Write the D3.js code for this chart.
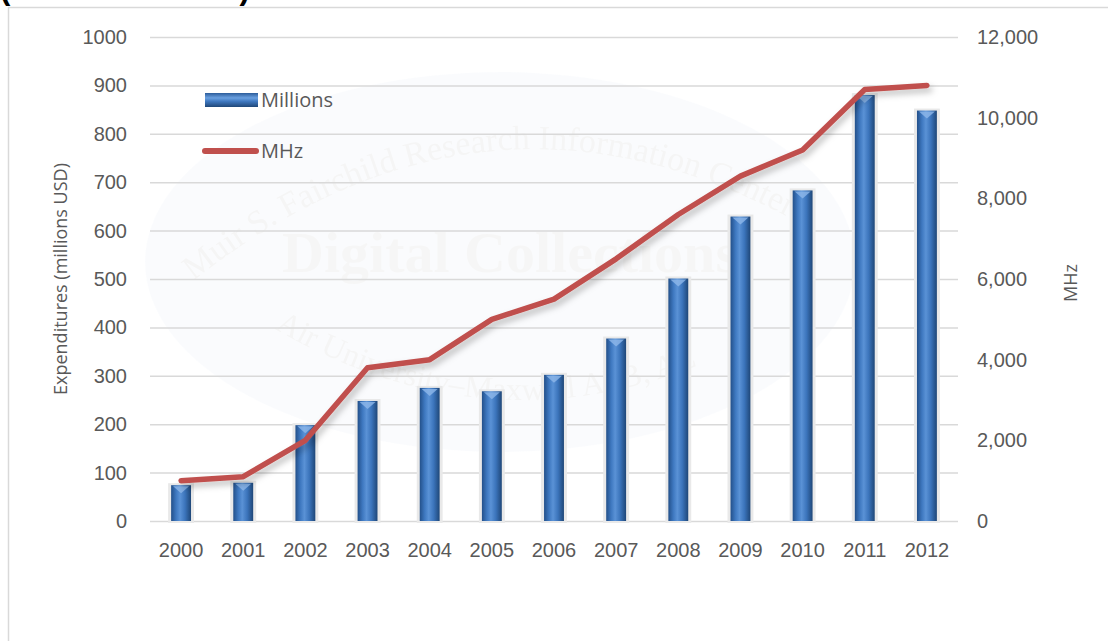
<!DOCTYPE html>
<html>
<head>
<meta charset="utf-8">
<script src="https://cdn.jsdelivr.net/npm/d3@7"></script>
<style>
  body { margin: 0; background: #fff; }
  svg { display: block; font-family: "Open Sans", "Liberation Sans", sans-serif; }
  .tick text { fill: #595959; font-size: 20px; }
</style>
</head>
<body>
<div id="chart"></div>
<script>
// data
const years = ["2000", "2001", "2002", "2003", "2004", "2005", "2006",
  "2007", "2008", "2009", "2010", "2011", "2012"];
const millions = [74, 79, 198, 248, 275, 268, 302, 377, 501, 629, 683, 880, 848];
const mhz = [1000, 1100, 2000, 3800, 4000, 5000, 5500, 6500, 7600, 8550, 9200, 10700, 10800];
const leftTicks = [0, 100, 200, 300, 400, 500, 600, 700, 800, 900, 1000];
const rightTicks = [0, 2000, 4000, 6000, 8000, 10000, 12000];
const seriesNames = ["Millions", "MHz"];

const W = 1108, H = 641;
const margin = { top: 37, left: 150, right: 150, bottom: 120 };
const width = W - margin.left - margin.right,
  height = H - margin.top - margin.bottom;

const svg = d3.select("#chart").append("svg")
  .attr("width", W).attr("height", H);

const defs = svg.append("defs");

// cylinder look for the bars
const grad = defs.append("linearGradient").attr("id", "barGrad")
  .attr("x1", "0%").attr("x2", "100%").attr("y1", "0%").attr("y2", "0%");
[["0%", "#23508a"], ["25%", "#3e78c0"], ["45%", "#5a92d6"], ["70%", "#3b74bb"], ["100%", "#1f4778"]]
  .forEach(([o, c]) => grad.append("stop").attr("offset", o).attr("stop-color", c));

const legGrad = defs.append("linearGradient").attr("id", "legGrad")
  .attr("x1", "0%").attr("x2", "0%").attr("y1", "0%").attr("y2", "100%");
[["0%", "#2c5c9a"], ["35%", "#6aa0e0"], ["60%", "#3f78c0"], ["100%", "#1f4778"]]
  .forEach(([o, c]) => legGrad.append("stop").attr("offset", o).attr("stop-color", c));

const shadow = defs.append("filter").attr("id", "shadow")
  .attr("x", "-10%").attr("y", "-10%").attr("width", "130%").attr("height", "130%");
shadow.append("feDropShadow").attr("dx", 3).attr("dy", 4)
  .attr("stdDeviation", 3).attr("flood-color", "#000").attr("flood-opacity", 0.25);

// clipped title peeking in at the top
svg.append("text")
  .attr("x", 0).attr("y", -1)
  .style("font-family", "'Liberation Sans', Arial, sans-serif")
  .style("font-weight", "bold").style("font-size", "31px")
  .attr("fill", "#000")
  .text("(millions of USD)");

// chart frame
svg.append("path")
  .attr("d", `M8.5,${H} V7.5 H${W}`)
  .attr("fill", "none").attr("stroke", "#d9d9d9").attr("stroke-width", 1.5);

// faint watermark
const wm = svg.append("g").attr("opacity", 0.35);
wm.append("ellipse").attr("cx", 500).attr("cy", 262).attr("rx", 355).attr("ry", 190)
  .attr("fill", "#f3f6fb");
defs.append("path").attr("id", "arcTop").attr("d", "M170,300 Q500,20 860,260");
defs.append("path").attr("id", "arcBot").attr("d", "M260,320 Q520,480 790,320");
wm.append("text").style("font-family", "'Liberation Serif', serif").style("font-size", "34px")
  .attr("fill", "#e4e4e4")
  .append("textPath").attr("href", "#arcTop").attr("startOffset", "4%")
  .text("Muir S. Fairchild Research Information Center");
wm.append("text").attr("x", 510).attr("y", 272).attr("text-anchor", "middle")
  .style("font-family", "'Liberation Serif', serif").style("font-weight", "bold")
  .style("font-size", "58px").attr("fill", "#e8e8e8").text("Digital Collections");
wm.append("text").style("font-family", "'Liberation Serif', serif").style("font-size", "32px")
  .attr("fill", "#e4e4e4")
  .append("textPath").attr("href", "#arcBot").attr("startOffset", "3%")
  .text("Air University–Maxwell AFB, AL");

const g = svg.append("g").attr("transform", `translate(${margin.left},${margin.top})`);

/* scales */
const x = d3.scaleBand().domain(years).range([0, width]).padding(0);
const yL = d3.scaleLinear().domain([0, 1000]).range([height, 0]);
const yR = d3.scaleLinear().domain([0, 12000]).range([height, 0]);

/* gridlines */
g.append("g")
  .call(d3.axisLeft(yL).tickValues(leftTicks).tickSize(-width).tickFormat(""))
  .call((s) => s.select(".domain").remove())
  .call((s) => s.selectAll("line").attr("stroke", "#d9d9d9").attr("stroke-width", 1.5));

/* axes */
g.append("g")
  .call(d3.axisLeft(yL).tickValues(leftTicks).tickSize(0).tickPadding(23).tickFormat(d3.format("d")))
  .call((s) => s.select(".domain").remove());

g.append("g").attr("transform", `translate(${width},0)`)
  .call(d3.axisRight(yR).tickValues(rightTicks).tickSize(0).tickPadding(19).tickFormat(d3.format(",")))
  .call((s) => s.select(".domain").remove());

g.append("g").attr("transform", `translate(0,${height})`)
  .call(d3.axisBottom(x).tickSize(0).tickPadding(22))
  .call((s) => s.select(".domain").remove());

/* axis titles */
svg.append("text")
  .attr("transform", `translate(67,${margin.top + height / 2}) rotate(-90)`)
  .attr("text-anchor", "middle").attr("fill", "#595959").style("font-size", "18px")
  .text("Expenditures (millions USD)");

svg.append("text")
  .attr("transform", `translate(1077,${margin.top + height / 2 + 4}) rotate(-90)`)
  .attr("text-anchor", "middle").attr("fill", "#595959").style("font-size", "18px")
  .text("MHz");

/* bars */
const barW = x.bandwidth() * 0.32;
const data = years.map((yr, i) => ({ year: yr, m: millions[i], f: mhz[i] }));

const bars = g.selectAll(".bar").data(data).join("g").attr("class", "bar");
bars.append("rect") // soft halo
  .attr("x", (d) => x(d.year) + x.bandwidth() / 2 - barW / 2 - 3)
  .attr("y", (d) => yL(d.m) - 2)
  .attr("width", barW + 6)
  .attr("height", (d) => height - yL(d.m) + 4)
  .attr("fill", "#e9e9e9");
bars.append("rect")
  .attr("x", (d) => x(d.year) + x.bandwidth() / 2 - barW / 2)
  .attr("y", (d) => yL(d.m))
  .attr("width", barW)
  .attr("height", (d) => height - yL(d.m))
  .attr("fill", "url(#barGrad)");
bars.append("path") // top bevel
  .attr("d", (d) => {
    const cx = x(d.year) + x.bandwidth() / 2, ty = yL(d.m);
    return `M${cx - barW / 2 + 2},${ty + 1} H${cx + barW / 2 - 2} L${cx},${ty + 8} Z`;
  })
  .attr("fill", "#8fb8ea").attr("opacity", 0.8);

/* MHz line */
const line = d3.line()
  .x((d) => x(d.year) + x.bandwidth() / 2)
  .y((d) => yR(d.f));

g.append("path").datum(data)
  .attr("d", line)
  .attr("fill", "none")
  .attr("stroke", "#c0504d")
  .attr("stroke-width", 5.5)
  .attr("stroke-linecap", "round")
  .attr("stroke-linejoin", "round")
  .attr("filter", "url(#shadow)");

/* legend */
const legend = svg.append("g").attr("transform", "translate(202,100)");
const items = legend.selectAll("g").data(seriesNames).join("g")
  .attr("transform", (d, i) => `translate(0,${i * 51})`);
items.filter((d) => d === "Millions").append("rect")
  .attr("x", 3).attr("y", -7).attr("width", 53).attr("height", 14)
  .attr("fill", "url(#legGrad)");
items.filter((d) => d === "MHz").append("line")
  .attr("x1", 3).attr("x2", 54).attr("y1", 0).attr("y2", 0)
  .attr("stroke", "#c0504d").attr("stroke-width", 6).attr("stroke-linecap", "round");
items.append("text")
  .attr("x", 59).attr("dy", "0.35em")
  .attr("fill", "#595959").style("font-size", "20px")
  .text((d) => d);
</script>
</body>
</html>
